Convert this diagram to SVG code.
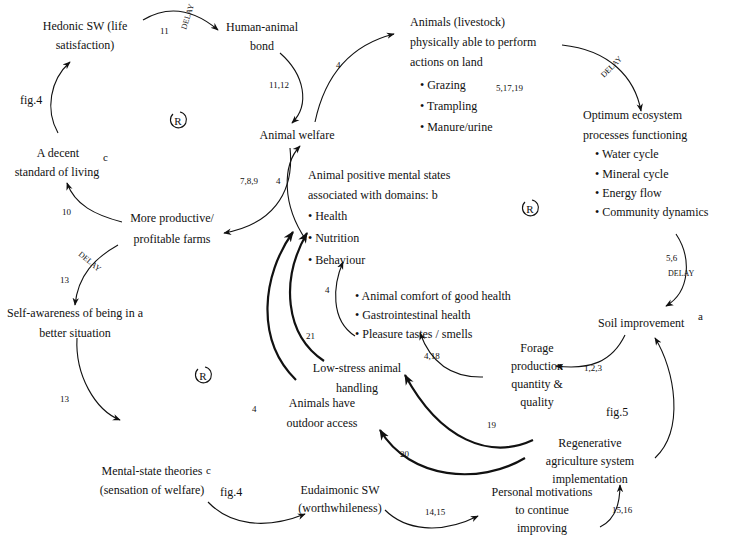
<svg xmlns="http://www.w3.org/2000/svg" width="735" height="536" viewBox="0 0 735 536">
<style>
text{font-family:"Liberation Serif","Times New Roman","DejaVu Serif",serif;font-size:12px;fill:#111}
.c{text-anchor:middle}
.n{font-size:9px}
.d{font-size:8px}
.l{fill:none;stroke:#111;stroke-width:1.1}
.t{fill:none;stroke:#111;stroke-width:2.2}
</style>
<defs>
<marker id="a" viewBox="0 0 10 10" refX="9" refY="5" markerWidth="8" markerHeight="8" markerUnits="userSpaceOnUse" orient="auto"><path d="M0,1 L10,5 L0,9 L3,5 Z" fill="#111"/></marker>
<marker id="b" viewBox="0 0 10 10" refX="9" refY="5" markerWidth="11" markerHeight="11" markerUnits="userSpaceOnUse" orient="auto"><path d="M0,1 L10,5 L0,9 L3,5 Z" fill="#111"/></marker>
</defs>
<g id="connectors">
<path class="l" d="M143,20 Q180,-2 218,30" marker-end="url(#a)"/>
<path class="l" d="M280,53 C305,75 310,105 292,123" marker-end="url(#a)"/>
<path class="l" d="M315,122 C325,75 350,45 394,34" marker-end="url(#a)"/>
<path class="l" d="M562,45 C610,50 635,78 641,111" marker-end="url(#a)"/>
<path class="l" d="M676,234 C692,258 690,292 666,306" marker-end="url(#a)"/>
<path class="l" d="M625,335 C612,362 590,370 556,366" marker-end="url(#a)"/>
<path class="l" d="M483,377 C445,378 428,355 420,333" marker-end="url(#a)"/>
<path class="l" d="M355,336 C330,320 333,285 343,262" marker-end="url(#a)"/>
<path class="l" d="M306,240 C282,205 282,165 300,146" marker-end="url(#a)"/>
<path class="l" d="M290,148 C295,195 270,225 224,233" marker-end="url(#a)"/>
<path class="l" d="M122,222 C95,215 75,205 67,183" marker-end="url(#a)"/>
<path class="l" d="M58,133 C45,110 50,80 70,62" marker-end="url(#a)"/>
<path class="l" d="M118,245 C95,258 78,275 75,305" marker-end="url(#a)"/>
<path class="l" d="M77,338 C75,375 95,410 120,420" marker-end="url(#a)"/>
<path class="l" d="M208,502 C230,525 265,530 305,514" marker-end="url(#a)"/>
<path class="l" d="M385,510 C405,530 440,535 478,516" marker-end="url(#a)"/>
<path class="l" d="M600,527 C615,520 620,505 620,485" marker-end="url(#a)"/>
<path class="l" d="M655,458 C685,430 675,370 655,338" marker-end="url(#a)"/>
<path class="t" d="M533,440 C490,460 440,440 405,375" marker-end="url(#b)"/>
<path class="t" d="M525,458 C480,485 410,480 380,430" marker-end="url(#b)"/>
<path class="t" d="M296,380 C255,340 262,275 293,232" marker-end="url(#b)"/>
<path class="t" d="M324,361 C285,335 280,280 307,233" marker-end="url(#b)"/>
</g>
<g id="labels">
<text class="n" x="160" y="34">11</text>
<text class="d" x="0" y="0" transform="translate(186,30) rotate(-72)">DELAY</text>
<text class="n" x="269" y="88">11,12</text>
<text class="n" x="336" y="68">4</text>
<text class="n" x="496" y="91">5,17,19</text>
<text class="d" x="0" y="0" transform="translate(604,78) rotate(-45)">DELAY</text>
<text class="n" x="666" y="261">5,6</text>
<text class="d" x="668" y="276">DELAY</text>
<text class="n" x="584" y="371">1,2,3</text>
<text class="n" x="424" y="359">4,18</text>
<text class="n" x="325" y="293">4</text>
<text class="n" x="276" y="184">4</text>
<text class="n" x="240" y="184">7,8,9</text>
<text class="n" x="62" y="215">10</text>
<text x="20" y="104">fig.4</text>
<text class="d" x="0" y="0" transform="translate(78,255) rotate(40)">DELAY</text>
<text class="n" x="60" y="283">13</text>
<text class="n" x="60" y="402">13</text>
<text class="n" x="252" y="412">4</text>
<text class="n" x="306" y="339">21</text>
<text class="n" x="487" y="428">19</text>
<text class="n" x="400" y="457">20</text>
<text x="220" y="496">fig.4</text>
<text class="n" x="425" y="515">14,15</text>
<text class="n" x="612" y="513">15,16</text>
<text x="606" y="416">fig.5</text>
</g>
<g id="r1"><path class="l" d="M173,114 A8,8 0 1 0 180,112"/><text class="c" x="178" y="125" style="font-size:11px">R</text></g>
<g id="r2"><path class="l" d="M525,202 A8,8 0 1 0 532,200"/><text class="c" x="530" y="213" style="font-size:11px">R</text></g>
<g id="r3"><path class="l" d="M198,369 A8,8 0 1 0 205,367"/><text class="c" x="203" y="380" style="font-size:11px">R</text></g>
<g id="hedonic"><text class="c" x="85" y="30">Hedonic SW (life</text><text class="c" x="85" y="49">satisfaction)</text></g>
<g id="bond"><text class="c" x="262" y="31">Human-animal</text><text class="c" x="262" y="50">bond</text></g>
<g id="welfare"><text class="c" x="297" y="139">Animal welfare</text></g>
<g id="livestock"><text x="410" y="26">Animals (livestock)</text><text x="410" y="46">physically able  to perform</text><text x="410" y="66">actions on land</text>
<text x="420" y="89">• Grazing</text><text x="420" y="110">• Trampling</text><text x="420" y="131">• Manure/urine</text></g>
<g id="ecosystem"><text x="583" y="119">Optimum ecosystem</text><text x="583" y="139">processes functioning</text>
<text x="595" y="158">• Water cycle</text><text x="595" y="178">• Mineral cycle</text><text x="595" y="197">• Energy flow</text><text x="595" y="216">• Community dynamics</text></g>
<g id="soil"><text x="598" y="327">Soil improvement</text><text x="698" y="320" style="font-size:11px">a</text></g>
<g id="forage"><text class="c" x="537" y="352">Forage</text><text class="c" x="537" y="370">production</text><text class="c" x="537" y="388">quantity &amp;</text><text class="c" x="537" y="406">quality</text></g>
<g id="mental"><text x="308" y="179">Animal  positive  mental  states</text><text x="308" y="199">associated with domains:  b</text>
<text x="308" y="220">• Health</text><text x="308" y="242">• Nutrition</text><text x="308" y="264">•  Behaviour</text></g>
<g id="comfort"><text x="355" y="300">• Animal comfort of good health</text><text x="355" y="319">• Gastrointestinal health</text><text x="355" y="338">• Pleasure tastes / smells</text></g>
<g id="lowstress"><text class="c" x="357" y="372">Low-stress animal</text><text class="c" x="357" y="392">handling</text></g>
<g id="outdoor"><text class="c" x="322" y="407">Animals have</text><text class="c" x="322" y="427">outdoor access</text></g>
<g id="decent"><text class="c" x="58" y="157">A decent</text><text class="c" x="57" y="176">standard of living</text><text x="103" y="161" style="font-size:11px">c</text></g>
<g id="farms"><text class="c" x="172" y="222">More productive/</text><text class="c" x="172" y="243">profitable farms</text></g>
<g id="selfaware"><text class="c" x="75" y="317">Self-awareness of being in a</text><text class="c" x="75" y="337">better situation</text></g>
<g id="mentaltheory"><text class="c" x="152" y="475">Mental-state theories</text><text class="c" x="152" y="494">(sensation of welfare)</text><text x="206" y="474" style="font-size:11px">c</text></g>
<g id="eudaimonic"><text class="c" x="340" y="494">Eudaimonic SW</text><text class="c" x="340" y="512">(worthwhileness)</text></g>
<g id="motivations"><text class="c" x="542" y="496">Personal motivations</text><text class="c" x="542" y="514">to continue</text><text class="c" x="542" y="532">improving</text></g>
<g id="regen"><text class="c" x="590" y="447">Regenerative</text><text class="c" x="590" y="465">agriculture system</text><text class="c" x="590" y="483">implementation</text></g>
</svg>
